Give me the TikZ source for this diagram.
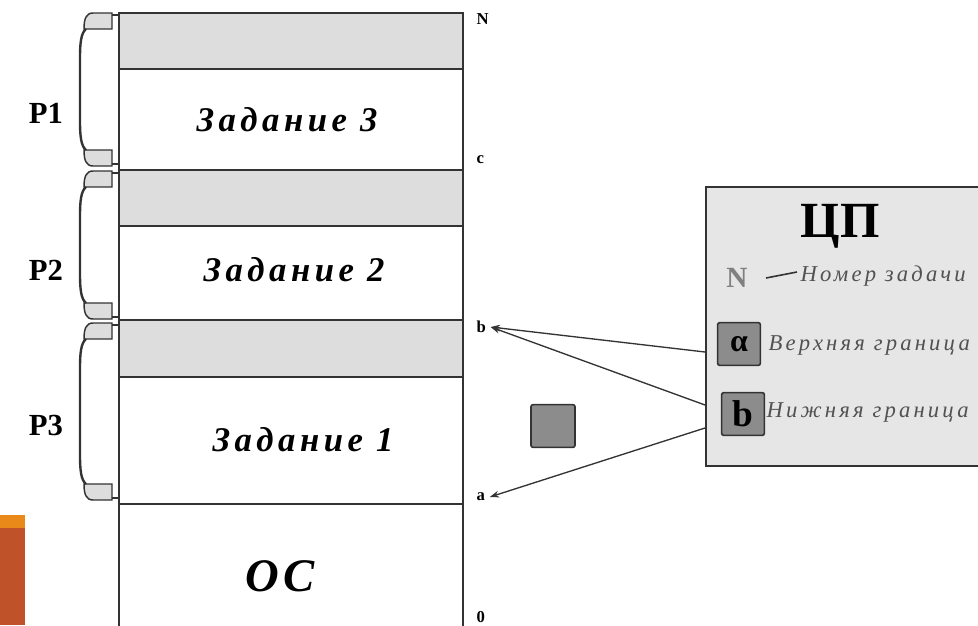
\documentclass[tikz,border=0pt]{standalone}
\usepackage{fontspec}
\setmainfont{Liberation Serif}
\usetikzlibrary{arrows.meta}
\definecolor{lgray}{HTML}{DDDDDD}
\definecolor{boxgray}{HTML}{E6E6E6}
\definecolor{sqgray}{HTML}{8C8C8C}
\definecolor{ln}{HTML}{333333}
\definecolor{orA}{HTML}{E8891A}
\definecolor{orB}{HTML}{C0522A}
\begin{document}
\begin{tikzpicture}[x=0.75pt,y=-0.75pt,
  cell/.style={draw=ln,line width=1.2pt},
  grayc/.style={cell,fill=lgray},
  job/.style={font=\bfseries\itshape\fontsize{26}{28}\selectfont\addfontfeatures{LetterSpace=13}},
  addrlab/.style={font=\bfseries\fontsize{12.5}{13}\selectfont,anchor=west},
  plab/.style={font=\bfseries\fontsize{23}{24}\selectfont},
  tab/.style={draw=ln,line width=1.1pt,fill=lgray},
  brk/.style={draw=ln,line width=1.8pt},
  legtxt/.style={font=\itshape\fontsize{17}{18}\selectfont\addfontfeatures{LetterSpace=14},text=ln!85,anchor=west},
  legbox/.style={draw=ln,line width=1.2pt,fill=sqgray,rounded corners=1.5pt,minimum width=32pt,minimum height=32pt,inner sep=0pt},
  arr/.style={draw=ln,line width=1pt,-{Stealth[length=7pt,width=5pt]}}
]
\useasboundingbox (0,0) rectangle (978,625);
\clip (0,0) rectangle (978,625);
\fill[white] (0,0) rectangle (978,625);
% orange block
\fill[orB] (0,515) rectangle (25,625);
\fill[orA] (0,515) rectangle (25,528);
% memory column
\draw[grayc] (119,13) rectangle (463,69);
\draw[cell] (119,69) rectangle (463,170);
\draw[grayc] (119,170) rectangle (463,226);
\draw[cell] (119,226) rectangle (463,320);
\draw[grayc] (119,320) rectangle (463,377);
\draw[cell] (119,377) rectangle (463,504);
\draw[cell] (119,640) -- (119,504) -- (463,504) -- (463,640);
\node[job] (j3) at (287,120) {Задание 3};
\node[job] (j2) at (294,270) {Задание 2};
\node[job] (j1) at (303,440) {Задание 1};
\node[font=\bfseries\itshape\fontsize{35}{36}\selectfont\addfontfeatures{LetterSpace=8}] (os) at (280,576) {ОС};
% address labels
\node[addrlab] (mN) at (472,19) {N};
\node[addrlab] (mc) at (472,160) {c};
\node[addrlab] (mb) at (472,327) {b};
\node[addrlab] (ma) at (472,497) {a};
\node[addrlab] (m0) at (472,617) {0};
% braces
\foreach \t/\b/\n/\y in {13/166/P1/113, 171/319/P2/270, 323/500/P3/425}{
  \draw[tab] (112,\t) -- (93,\t) .. controls (86,\t) and (84,\t+6) .. (84,\t+16) -- (112,\t+16) -- cycle;
  \draw[tab] (112,\b) -- (93,\b) .. controls (86,\b) and (84,\b-6) .. (84,\b-16) -- (112,\b-16) -- cycle;
  \draw[brk] (86,\t+16) .. controls (81,\t+20) and (80,\t+30) .. (80,\t+45) -- (80,\b-45) .. controls (80,\b-30) and (81,\b-20) .. (86,\b-16);
  \draw[ln,line width=1pt] (112,\t+2) -- (119,\t+2);
  \draw[ln,line width=1pt] (112,\b-2) -- (119,\b-2);
  \node[plab] at (46,\y) {\n};
}
% small square
\node[draw=ln,line width=1.2pt,fill=sqgray,rounded corners=1.5pt,minimum width=33pt,minimum height=32pt,inner sep=0pt] (sq) at (553,426) {};
% CPU box
\node[draw=ln,line width=1.5pt,fill=boxgray,minimum width=240pt,minimum height=209pt,inner sep=0pt,anchor=north west] (cpu) at (705,186) {};
\node[font=\bfseries\fontsize{38}{40}\selectfont] (cp) at (840,226) {ЦП};
\node[font=\bfseries\fontsize{22}{24}\selectfont,text=gray] (nN) at (737,278) {N};
\node[legtxt] (nt) at (796,276) {Номер задачи};
\draw[ln,line width=1.2pt] (766,278) -- (797,272);
\node[legbox] (al) at (739,344) {\bfseries\fontsize{24}{24}\selectfont α};
\node[legtxt] (alt) at (764,345) {Верхняя граница};
\node[legbox] (bb) at (743,414) {\bfseries\fontsize{28}{28}\selectfont b};
\node[legtxt] (bbt) at (762,412) {Нижняя граница};
\coordinate (p1) at (705,352);
\coordinate (p2) at (705,405);
\coordinate (p3) at (705,428);
\draw[arr] (p1) -- (mb.east);
\draw[arr] (p2) -- (mb.east);
\draw[arr] (p3) -- (ma.east);
\end{tikzpicture}
\end{document}
